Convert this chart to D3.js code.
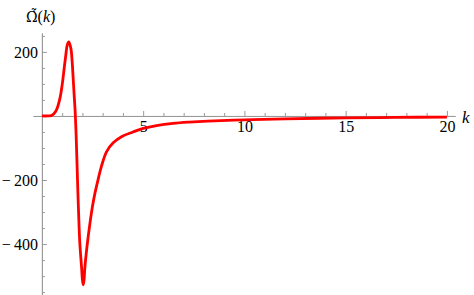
<!DOCTYPE html>
<html>
<head>
<meta charset="utf-8">
<script src="https://cdn.jsdelivr.net/npm/d3@7"></script>
<style>
  body { margin: 0; background: #fff; }
</style>
</head>
<body>
<div id="my_dataviz"></div>
<script>
// values
var kValues = [0, 0.3, 0.45, 0.58, 0.72, 0.89, 1.0, 1.1, 1.18, 1.25, 1.33, 1.43, 1.495, 1.544, 1.593, 1.643,
  1.69, 1.73, 1.77, 1.81, 1.87, 1.96, 2.0, 2.04, 2.08, 2.12, 2.23, 2.37, 2.5, 2.62, 2.78, 2.95, 3.19, 3.52,
  3.95, 4.5, 5, 5.66, 6.48, 7.3, 8.2, 10, 12, 15, 17.5, 20];
var omegaValues = [0, 0, 1, 6, 19, 55, 97, 149, 190, 221, 231, 211, 169, 117, 65, 13,
  -60, -140, -225, -300, -395, -474, -512, -527, -513, -474, -406, -336, -281, -241, -197, -155, -112, -84,
  -64, -50, -39, -30, -23, -19, -16, -12, -9, -6, -4.5, -3.5];

var xMajor = [5, 10, 15, 20];
var xMinor = [1, 2, 3, 4, 6, 7, 8, 9, 11, 12, 13, 14, 16, 17, 18, 19];
var yMajor = [-400, -200, 200];
var yMinor = [-550, -500, -450, -350, -300, -250, -150, -100, -50, 50, 100, 150, 250];

var width = 474, height = 295;
var axisColor = "#999";
var serif = "Liberation Serif";

var svg = d3.select("#my_dataviz")
    .append("svg")
    .attr("width", width)
    .attr("height", height)
    .attr("font-family", serif);

var x = d3.scaleLinear()
    .domain([-0.44, 20.4])
    .range([33, 455]);

var y = d3.scaleLinear()
    .domain([-559, 259])
    .range([295, 33]);

// X axis, minor ticks first then the major ones with labels
var xg = svg.append("g")
    .attr("transform", "translate(0," + y(0) + ")");
xg.append("g")
    .call(d3.axisBottom(x).tickValues(xMinor).tickSizeInner(-3).tickSizeOuter(0).tickFormat(""));
xg.append("g")
    .call(d3.axisBottom(x).tickValues(xMajor).tickSizeInner(-5).tickSizeOuter(0).tickPadding(5));

// Y axis
var yg = svg.append("g")
    .attr("transform", "translate(" + x(0) + ",0)");
yg.append("g")
    .call(d3.axisLeft(y).tickValues(yMinor).tickSizeInner(-3).tickSizeOuter(0).tickFormat(""));
yg.append("g")
    .call(d3.axisLeft(y).tickValues(yMajor).tickSizeInner(-5).tickSizeOuter(0).tickPadding(4)
      .tickFormat(function (d) { return d < 0 ? "\u2212\u2009" + Math.abs(d) : d; }));

svg.selectAll("g").attr("font-family", serif);
svg.selectAll(".domain, .tick line")
    .attr("stroke", axisColor)
    .attr("stroke-width", 1);
svg.selectAll(".tick text")
    .attr("fill", "#000")
    .attr("font-size", 16);

// the curve
var line = d3.line()
    .x(function (d) { return x(d[0]); })
    .y(function (d) { return y(d[1]); })
    .curve(d3.curveCatmullRom.alpha(0.5));

svg.append("path")
    .datum(kValues.map(function (k, i) { return [k, omegaValues[i]]; }))
    .attr("fill", "none")
    .attr("stroke", "#ff0000")
    .attr("stroke-width", 2.8)
    .attr("stroke-linejoin", "round")
    .attr("d", line);

// axis labels
svg.append("text")
    .attr("x", 462)
    .attr("y", 122.5)
    .attr("font-size", 17)
    .attr("font-style", "italic")
    .text("k");

// Omega with combining dot and tilde above (DejaVu stacks the marks)
var lab = svg.append("text")
    .attr("x", 26)
    .attr("y", 22)
    .attr("font-size", 16);
lab.append("tspan").attr("font-family", "DejaVu Serif").attr("font-size", 14).text("\u03A9\u0307\u0303");
lab.append("tspan").text("(");
lab.append("tspan").attr("font-style", "italic").text("k");
lab.append("tspan").text(")");
</script>
</body>
</html>
